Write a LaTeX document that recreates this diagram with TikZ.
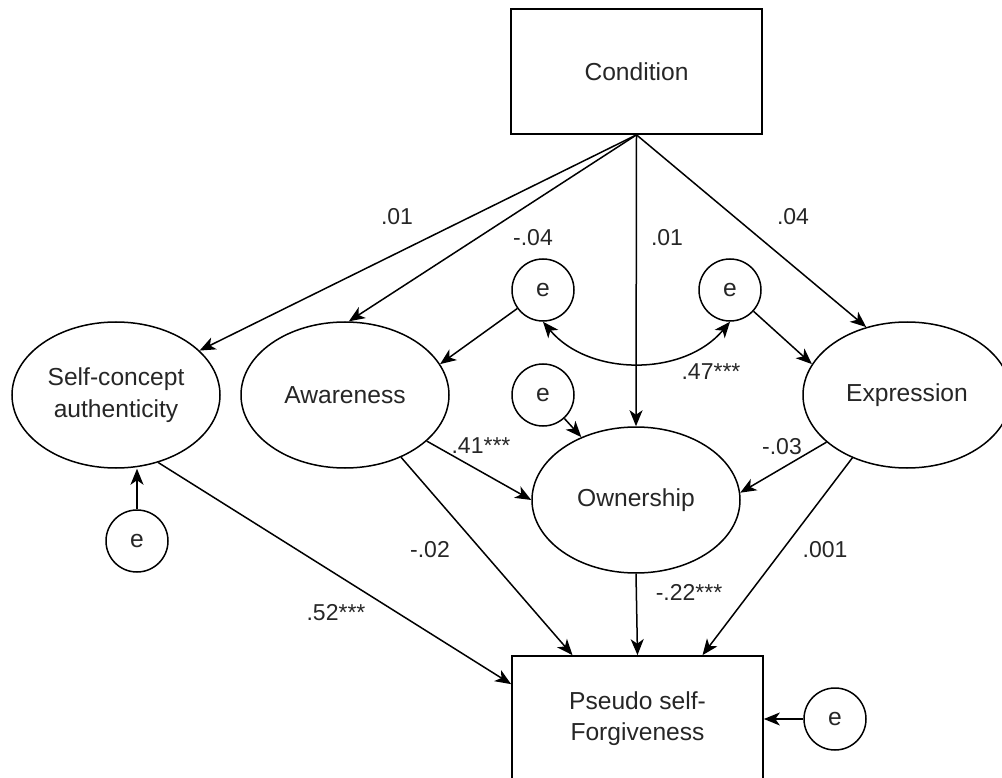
\documentclass[tikz,border=0pt]{standalone}
\usepackage{fontspec}
\setmainfont{Liberation Sans}
\usetikzlibrary{arrows.meta,shapes.geometric,calc}
\begin{document}
\begin{tikzpicture}[x=1pt,y=-1pt,
  every node/.style={font=\fontsize{24.6}{31.5}\selectfont, text=black!85},
  box/.style={draw, line width=1.7pt, minimum width=251pt, minimum height=125pt, inner sep=0pt, align=center},
  latent/.style={draw, ellipse, line width=1.5pt, minimum width=208pt, minimum height=146pt, inner sep=0pt, align=center},
  err/.style={draw, circle, line width=1.5pt, minimum size=62pt, inner sep=0pt},
  lab/.style={font=\fontsize{23}{27}\selectfont, inner sep=0pt},
  arr/.style={line width=1.5pt, -{Stealth[length=16pt,width=13pt,inset=4.5pt]}},
  darr/.style={line width=1.5pt, {Stealth[length=16pt,width=13pt,inset=4.5pt]}-{Stealth[length=16pt,width=13pt,inset=4.5pt]}},
]
\useasboundingbox (0,0) rectangle (1002,778);
\clip (0,0) rectangle (1002,778);

% nodes
\node[box] (cond) at (636.5,71.5) {Condition};
\node[latent] (sc) at (116,395) {Self-concept\\authenticity};
\node[latent] (aw) at (345,395) {Awareness};
\node[latent] (ow) at (636,500) {Ownership};
\node[latent] (ex) at (907,395) {Expression};
\node[box] (ps) at (637.5,718.5) {Pseudo self-\\Forgiveness};
\node[err] (e1) at (543,290) {e};
\node[err] (e2) at (730,290) {e};
\node[err] (e3) at (543,395) {e};
\node[err] (e4) at (137,541) {e};
\node[err] (e5) at (835,719) {e};

\coordinate (psl) at ($(ps.north west)+(0,29)$);
\coordinate (psa) at ($(ps.north)+(-65,0)$);
\coordinate (pse) at ($(ps.north)+(65,0)$);

% connectors
\draw[arr] (cond.south) -- (sc.28);
\draw[arr] (cond.south) -- (aw.87);
\draw[arr] (cond.south) -- (ow.north);
\draw[arr] (cond.south) -- (ex.121);
\draw[arr] (e1) -- (aw.18);
\draw[arr] (e2) -- (ex.162);
\draw[arr] (e3) -- (ow.131);
\draw[darr] (e1.south) .. controls +(46,55) and +(-46,55) .. (e2.south);
\draw[arr] (aw) -- (ow.west);
\draw[arr] (ex) -- (ow.4);
\draw[arr] (sc.-58) -- (psl);
\draw[arr] (aw.-48) -- (psa);
\draw[arr] (ow.south) -- (ps.north);
\draw[arr] (ex.229) -- (pse);
\draw[arr] (e4) -- (e4 |- sc.south);
\draw[arr] (e5) -- (e5 -| ps.east);

% labels
\node[lab] (l1) at (397,217) {.01};
\node[lab] (l2) at (533,238) {-.04};
\node[lab] (l3) at (667,238) {.01};
\node[lab] (l4) at (793,217) {.04};
\node[lab] (l5) at (711,372) {.47***};
\node[lab] (l6) at (481,446) {.41***};
\node[lab] (l7) at (782,447) {-.03};
\node[lab] (l8) at (430,550) {-.02};
\node[lab] (l9) at (336,613) {.52***};
\node[lab] (l10) at (689,592) {-.22***};
\node[lab] (l11) at (825,550) {.001};
\end{tikzpicture}
\end{document}
